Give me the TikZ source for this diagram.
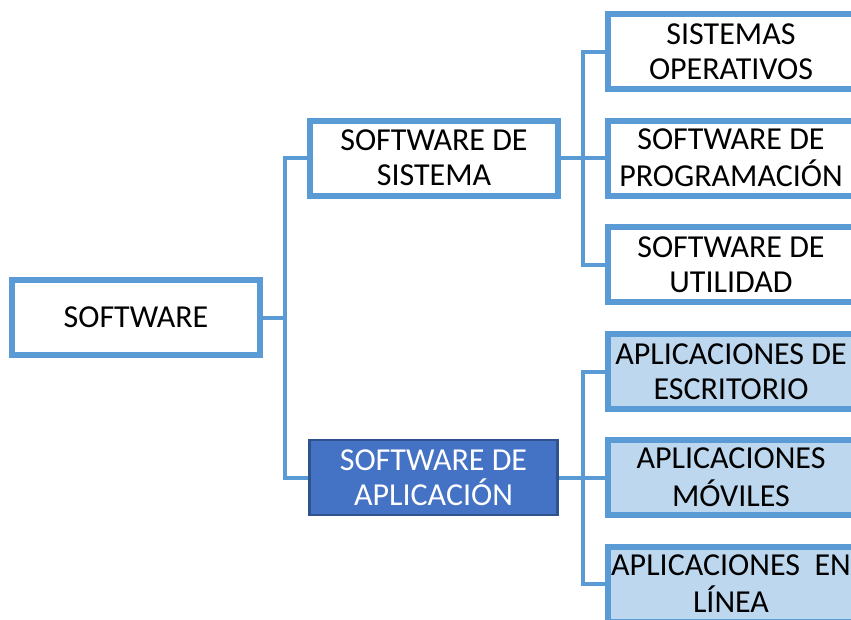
\documentclass[tikz,border=0pt]{standalone}
\usepackage{fontspec}
\setmainfont{Carlito}
\definecolor{azul}{HTML}{5B9BD5}
\definecolor{azulclaro}{HTML}{BDD7EE}
\definecolor{azuloscuro}{HTML}{4472C4}
\definecolor{bordeoscuro}{HTML}{2F528F}
\newcommand{\corrido}[1]{\hspace*{-30pt}\raisebox{-3pt}[\height][\depth]{\begin{tabular}{@{}c@{}}#1\end{tabular}}}
\begin{document}
\begin{tikzpicture}[x=1pt,y=-1pt,
    caja/.style={draw=azul,line width=6pt,fill=white,minimum width=248pt,minimum height=75pt,
        inner sep=0pt,align=center,font=\fontsize{32}{35}\selectfont},
    hoja/.style={caja,minimum width=276pt,anchor=west},
    hojaclara/.style={hoja,fill=azulclaro},
    cajaoscura/.style={caja,draw=bordeoscuro,line width=2.5pt,fill=azuloscuro,text=white},
    linea/.style={draw=azul,line width=4pt}]
    \useasboundingbox (0,0) rectangle (851,619);
    \node[caja] (sw) at (136,317.5) {SOFTWARE};
    \node[caja] (sis) at (434,158) {SOFTWARE DE\\SISTEMA};
    \node[cajaoscura] (apl) at (433.5,477.5) {SOFTWARE DE\\APLICACIÓN};
    \node[hoja] (so) at (605,51.5) {\corrido{SISTEMAS\\OPERATIVOS}};
    \node[hoja] (prog) at (605,158) {\corrido{SOFTWARE DE\\PROGRAMACIÓN}};
    \node[hoja] (util) at (605,264.5) {\corrido{SOFTWARE DE\\UTILIDAD}};
    \node[hojaclara] (esc) at (605,371.5) {\corrido{APLICACIONES DE\\ESCRITORIO}};
    \node[hojaclara] (mov) at (605,477.5) {\corrido{APLICACIONES\\MÓVILES}};
    \node[hojaclara] (lin) at (605,584) {\corrido{APLICACIONES\ \ EN\\LÍNEA}};
    \coordinate (j1) at (285,317.5);
    \coordinate (j2) at (583,158);
    \coordinate (j3) at (583,477.5);
    \draw[linea] (sw) -- (j1) |- (sis);
    \draw[linea] (j1) |- (apl);
    \draw[linea] (sis) -- (j2) |- (so);
    \draw[linea] (j2) -- (prog);
    \draw[linea] (j2) |- (util);
    \draw[linea] (apl) -- (j3) |- (esc);
    \draw[linea] (j3) -- (mov);
    \draw[linea] (j3) |- (lin);
\end{tikzpicture}
\end{document}
